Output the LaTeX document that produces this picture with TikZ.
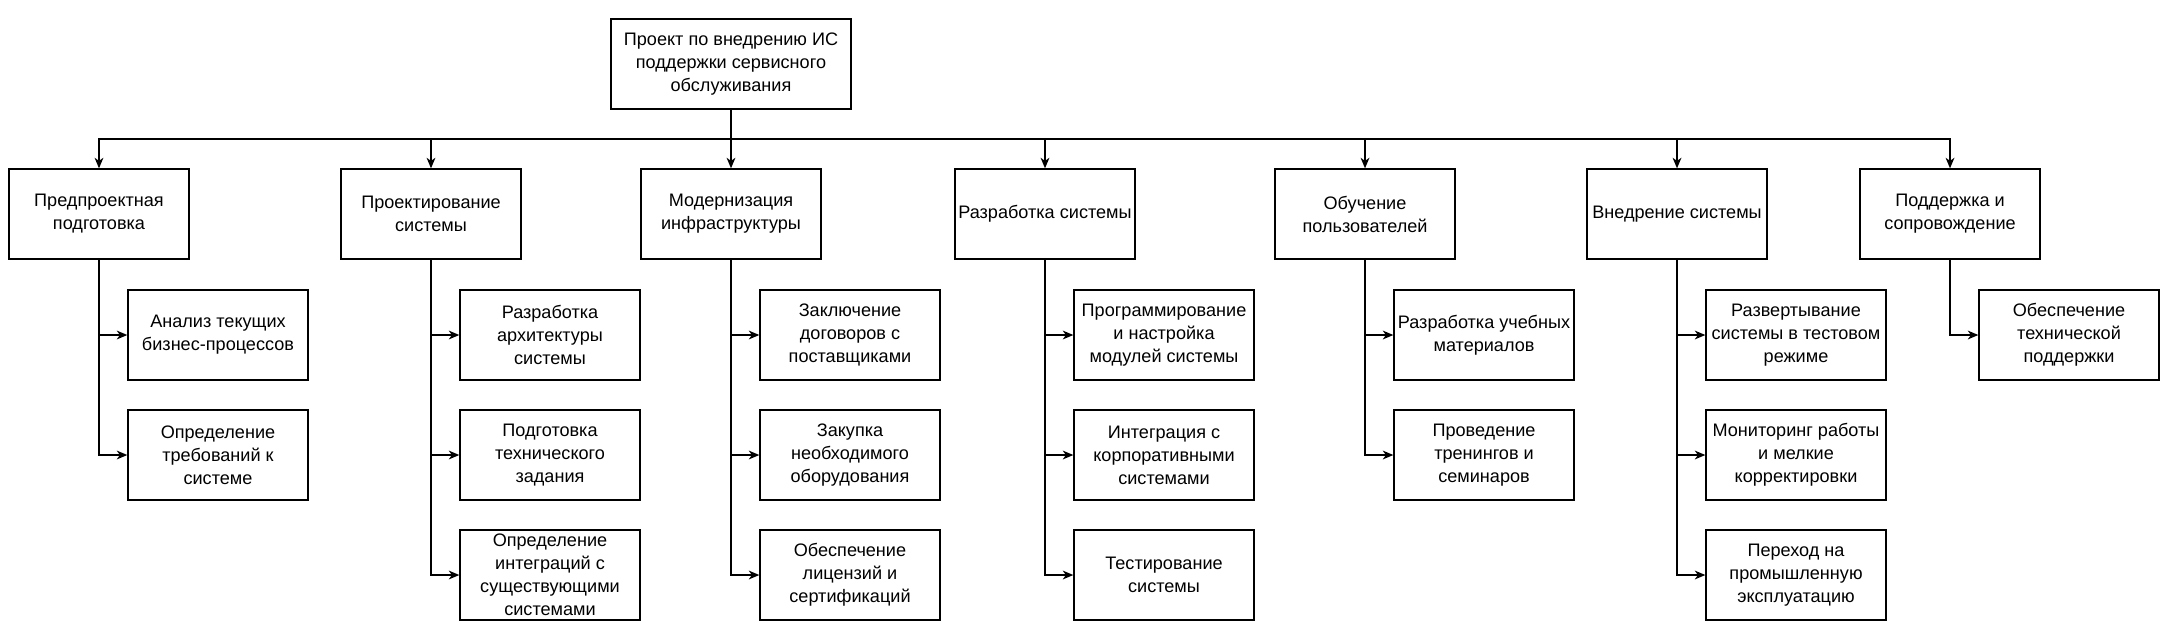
\documentclass[tikz,border=0pt]{standalone}
\usepackage{fontspec}
\setmainfont{Liberation Sans}
\usepackage{tikz}
\usetikzlibrary{arrows.meta, positioning}

\tikzset{
  wbsbox/.style={draw=black, line width=0.8pt, fill=white, align=center,
    minimum width=3.6cm, minimum height=1.8cm, inner sep=0pt,
    font=\fontsize{10.3}{13.1}\selectfont},
  wbsarr/.style={draw=black, line width=0.8pt,
    -{Stealth[length=6pt, width=5pt, inset=1.8pt]}}
}

\begin{document}
\begin{tikzpicture}[x=0.02cm, y=-0.02cm]
  \useasboundingbox (0,0) rectangle (2162,630);

  %% root
  \node[wbsbox, minimum width=4.8cm] (root) at (731,64)
    {Проект по внедрению ИС\\поддержки сервисного\\обслуживания};
  \coordinate (bus) at (731,139);

  %% first level
  \node[wbsbox] (p1) at (99,214)   {Предпроектная\\подготовка};
  \node[wbsbox] (p2) at (431,214)  {Проектирование\\системы};
  \node[wbsbox] (p3) at (731,214)  {Модернизация\\инфраструктуры};
  \node[wbsbox] (p4) at (1045,214) {Разработка системы};
  \node[wbsbox] (p5) at (1365,214) {Обучение\\пользователей};
  \node[wbsbox] (p6) at (1677,214) {Внедрение системы};
  \node[wbsbox] (p7) at (1950,214) {Поддержка и\\сопровождение};

  %% second level
  \node[wbsbox] (p1a) at (218,335) {Анализ текущих\\бизнес-процессов};
  \node[wbsbox] (p1b) at (218,455) {Определение\\требований к\\системе};

  \node[wbsbox] (p2a) at (550,335) {Разработка\\архитектуры\\системы};
  \node[wbsbox] (p2b) at (550,455) {Подготовка\\технического\\задания};
  \node[wbsbox] (p2c) at (550,575) {Определение\\интеграций с\\существующими\\системами};

  \node[wbsbox] (p3a) at (850,335) {Заключение\\договоров с\\поставщиками};
  \node[wbsbox] (p3b) at (850,455) {Закупка\\необходимого\\оборудования};
  \node[wbsbox] (p3c) at (850,575) {Обеспечение\\лицензий и\\сертификаций};

  \node[wbsbox] (p4a) at (1164,335) {Программирование\\и настройка\\модулей системы};
  \node[wbsbox] (p4b) at (1164,455) {Интеграция с\\корпоративными\\системами};
  \node[wbsbox] (p4c) at (1164,575) {Тестирование\\системы};

  \node[wbsbox] (p5a) at (1484,335) {Разработка учебных\\материалов};
  \node[wbsbox] (p5b) at (1484,455) {Проведение\\тренингов и\\семинаров};

  \node[wbsbox] (p6a) at (1796,335) {Развертывание\\системы в тестовом\\режиме};
  \node[wbsbox] (p6b) at (1796,455) {Мониторинг работы\\и мелкие\\корректировки};
  \node[wbsbox] (p6c) at (1796,575) {Переход на\\промышленную\\эксплуатацию};

  \node[wbsbox] (p7a) at (2069,335) {Обеспечение\\технической\\поддержки};

  %% root to first level
  \draw[wbsarr] (root.south) -- (p3.north);
  \foreach \k in {p1,p2,p4,p5,p6,p7}{
    \draw[wbsarr] (root.south) -- (bus) -| (\k.north);
  }

  %% first level to second level
  \foreach \c/\k in {p1/p1a, p1/p1b, p2/p2a, p2/p2b, p2/p2c, p3/p3a, p3/p3b, p3/p3c,
                     p4/p4a, p4/p4b, p4/p4c, p5/p5a, p5/p5b, p6/p6a, p6/p6b, p6/p6c, p7/p7a}{
    \draw[wbsarr] (\c.south) |- (\k.west);
  }

\end{tikzpicture}
\end{document}
